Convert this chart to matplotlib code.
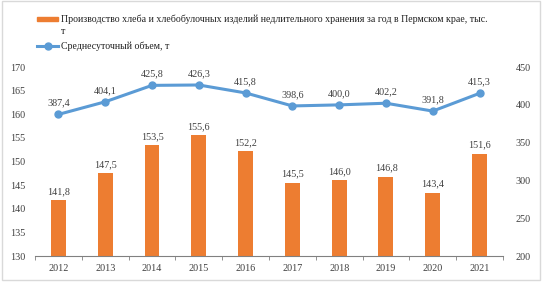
import numpy as np
import matplotlib
matplotlib.use("Agg")
import matplotlib.pyplot as plt
from matplotlib.patches import Rectangle

plt.rcParams['font.family'] = ['Liberation Serif', 'DejaVu Serif']

# --- Data ---
years = ['2012', '2013', '2014', '2015', '2016', '2017', '2018', '2019', '2020', '2021']
production = [141.8, 147.5, 153.5, 155.6, 152.2, 145.5, 146.0, 146.8, 143.4, 151.6]
daily = [387.4, 404.1, 425.8, 426.3, 415.8, 398.6, 400.0, 402.2, 391.8, 415.3]

bar_color = '#ED7D31'
line_color = '#5B9BD5'
fs = 7.3

fig = plt.figure(figsize=(5.42, 2.83), dpi=100)
ax = fig.add_axes([0.0646, 0.095, 0.8634, 0.668])
ax2 = ax.twinx()

x = np.arange(len(years))
ax.bar(x, production, width=0.32, color=bar_color, zorder=2)
for xi, v in zip(x, production):
    ax.text(xi, v + 0.9, f"{v:.1f}".replace('.', ','), ha='center', va='bottom',
            fontsize=fs, color='#404040')

ax2.plot(x, daily, color=line_color, lw=2.2, marker='o', markersize=5, zorder=3)
for xi, v in zip(x, daily):
    ax2.text(xi, v + 9, f"{v:.1f}".replace('.', ','), ha='center', va='bottom',
             fontsize=fs, color='#404040')

ax.set_xlim(-0.5, len(years) - 0.5)
ax.set_ylim(130, 170)
ax.set_yticks(np.arange(130, 171, 5))
ax2.set_ylim(200, 450)
ax2.set_yticks(np.arange(200, 451, 50))

ax.set_xticks(x)
ax.set_xticklabels(years)
ax.set_xticks(np.arange(-0.5, len(years), 1), minor=True)
ax.tick_params(axis='x', which='major', length=0, labelsize=fs, pad=6, colors='#404040')
ax.tick_params(axis='x', which='minor', length=3, color='#808080')
ax.tick_params(axis='y', length=0, labelsize=fs, pad=7, colors='#404040')
ax2.tick_params(axis='y', length=0, labelsize=fs, pad=9, colors='#404040')

for a in (ax, ax2):
    for s in ('top', 'left', 'right'):
        a.spines[s].set_visible(False)
ax.spines['bottom'].set_color('#808080')
ax2.spines['bottom'].set_visible(False)

# Legend
fig.patches.append(Rectangle((37 / 542, 1 - 21 / 283), 21 / 542, 4 / 283,
                             transform=fig.transFigure, color=bar_color))
fig.text(61 / 542, 1 - 19 / 283,
         'Производство хлеба и хлебобулочных изделий недлительного хранения за год в Пермском крае, тыс.',
         fontsize=7.1, va='center', ha='left', color='#202020')
fig.text(61 / 542, 1 - 32 / 283, 'т', fontsize=7.1, va='center', ha='left', color='#202020')
fig.lines.append(plt.Line2D([37 / 542, 58 / 542], [1 - 46 / 283, 1 - 46 / 283],
                            transform=fig.transFigure, color=line_color, lw=2.2))
fig.lines.append(plt.Line2D([47.5 / 542], [1 - 46 / 283], transform=fig.transFigure,
                            color=line_color, marker='o', markersize=5))
fig.text(61 / 542, 1 - 46 / 283, 'Среднесуточный объем, т', fontsize=7.1,
         va='center', ha='left', color='#202020')

# Outer border
fig.patches.append(Rectangle((0.004, 0.01), 0.992, 0.985, transform=fig.transFigure,
                             fill=False, edgecolor='#D9D9D9', lw=1))

fig.savefig("out.png", dpi=100)
